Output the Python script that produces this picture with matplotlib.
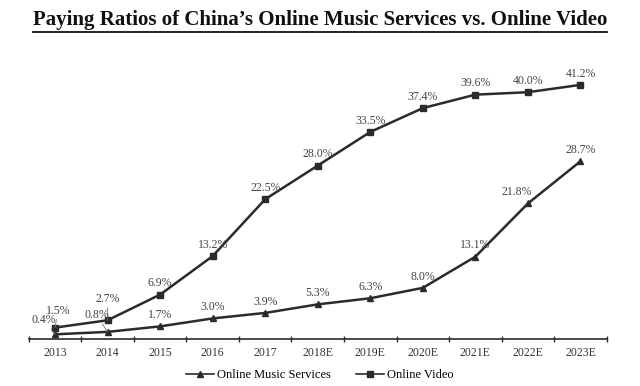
import matplotlib.pyplot as plt
from matplotlib.lines import Line2D

plt.rcParams['font.family'] = ['Liberation Serif', 'DejaVu Serif']

years = ['2013', '2014', '2015', '2016', '2017', '2018E', '2019E',
         '2020E', '2021E', '2022E', '2023E']
music = [0.4, 0.8, 1.7, 3.0, 3.9, 5.3, 6.3, 8.0, 13.1, 21.8, 28.7]
video = [1.5, 2.7, 6.9, 13.2, 22.5, 28.0, 33.5, 37.4, 39.6, 40.0, 41.2]

col = '#2b2b2b'
fig = plt.figure(figsize=(6.4, 3.86), dpi=100)
ax = fig.add_axes([0.045, 0.122, 0.903, 0.75])
x = list(range(len(years)))

ax.plot(x, music, color=col, lw=1.8, marker='^', ms=5, label='Online Music Services')
ax.plot(x, video, color=col, lw=1.8, marker='s', ms=5, label='Online Video')

ax.set_xlim(-0.5, len(years) - 0.5)
ax.set_ylim(-0.35, 47)
for s in ['left', 'right', 'top']:
    ax.spines[s].set_visible(False)
ax.spines['bottom'].set_color(col)
ax.spines['bottom'].set_linewidth(1.2)
ax.set_yticks([])
ax.set_xticks(x)
ax.set_xticklabels(years, fontsize=8.5, color='#333333')
ax.tick_params(axis='x', length=0, pad=6)
ax.set_xticks([i - 0.5 for i in range(len(years) + 1)], minor=True)
ax.tick_params(axis='x', which='minor', length=5, direction='inout', color=col, width=1)

tcol = '#444444'
# plain labels above points
for i in range(2, len(years)):
    ax.annotate(f'{video[i]:.1f}%', (i, video[i]), xytext=(0, 6),
                textcoords='offset points', ha='center', fontsize=8.5, color=tcol)
    dx = -8 if i == 9 else 0
    ax.annotate(f'{music[i]:.1f}%', (i, music[i]), xytext=(dx, 6),
                textcoords='offset points', ha='center', fontsize=8.5, color=tcol)

# labels with leader lines for the crowded first two years
lp = dict(arrowstyle='-', color='#777777', lw=0.6, shrinkA=0, shrinkB=0)
ax.annotate('1.5%', (0, video[0]), xytext=(2, 10), textcoords='offset points',
            ha='center', fontsize=8.5, color=tcol, arrowprops=lp)
ax.annotate('0.4%', (0, music[0]), xytext=(-8, 8), textcoords='offset points',
            ha='center', fontsize=8.5, color=tcol, arrowprops=lp)
ax.annotate('2.7%', (1, video[1]), xytext=(0, 13), textcoords='offset points',
            ha='center', fontsize=8.5, color=tcol, arrowprops=lp)
ax.annotate('0.8%', (1, music[1]), xytext=(-8, 10), textcoords='offset points',
            ha='center', fontsize=8.5, color=tcol, arrowprops=lp)

handles = [Line2D([], [], color=col, lw=1.2, marker='^', ms=5),
           Line2D([], [], color=col, lw=1.2, marker='s', ms=5)]
fig.legend(handles, ['Online Music Services', 'Online Video'], loc='center',
           bbox_to_anchor=(0.5, 0.028), ncol=2, frameon=False, fontsize=9,
           handlelength=2.2, handletextpad=0.3, columnspacing=2.0)

title = fig.text(0.5, 0.948, 'Paying Ratios of China\u2019s Online Music Services vs. Online Video',
                 ha='center', va='center', fontsize=15, fontweight='bold', color='#111111')
fig.canvas.draw()
bb = title.get_window_extent().transformed(fig.transFigure.inverted())
fig.add_artist(Line2D([bb.x0, bb.x1], [bb.y0 - 0.004, bb.y0 - 0.004],
                      transform=fig.transFigure, color='#111111', lw=1.3))

fig.savefig('out.png', dpi=100)
